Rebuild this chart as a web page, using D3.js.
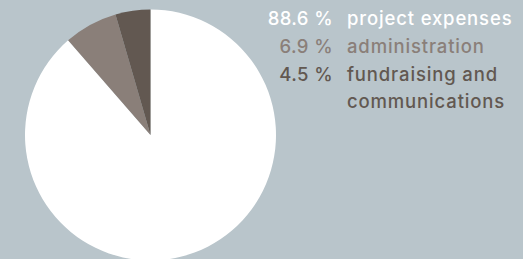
<!DOCTYPE html>
<html><head><meta charset="utf-8">
<script src="https://cdn.jsdelivr.net/npm/d3@7"></script>
<style>body{margin:0;background:#b9c5cb;}svg{display:block}</style>
</head><body>
<script>
const categories = ["project expenses", "administration", "fundraising and communications"];
const values = [88.6, 6.9, 4.5];
const valueLabels = ["88.6 %", "6.9 %", "4.5 %"];
const labelLines = [["project expenses"], ["administration"], ["fundraising and", "communications"]];
const colors = ["#ffffff", "#8a7f79", "#625851"];

const W = 523, H = 259;
const svg = d3.select("body").append("svg").attr("width", W).attr("height", H);
svg.append("rect").attr("width", W).attr("height", H).attr("fill", "#b9c5cb");

const pie = d3.pie().sort(null).value(d => d);
const arc = d3.arc().innerRadius(0).outerRadius(125.5);
const g = svg.append("g").attr("transform", "translate(150.5,135)");
g.selectAll("path").data(pie(values)).join("path")
  .attr("d", arc).attr("fill", (d, i) => colors[i]);

const leg = svg.append("g").attr("font-family", "Inter, sans-serif").attr("font-size", 18.5).attr("font-weight", 450);
let y = 25;
const lh = 27.8;
categories.forEach((c, i) => {
  leg.append("text").attr("x", 333).attr("y", y).attr("text-anchor", "end")
    .attr("fill", colors[i]).attr("letter-spacing", "0.4").text(valueLabels[i]);
  labelLines[i].forEach((l, j) => {
    leg.append("text").attr("x", 347).attr("y", y + j * lh)
      .attr("fill", colors[i]).attr("letter-spacing", "0.85").text(l);
  });
  y += lh * labelLines[i].length;
});
</script>
</body></html>
